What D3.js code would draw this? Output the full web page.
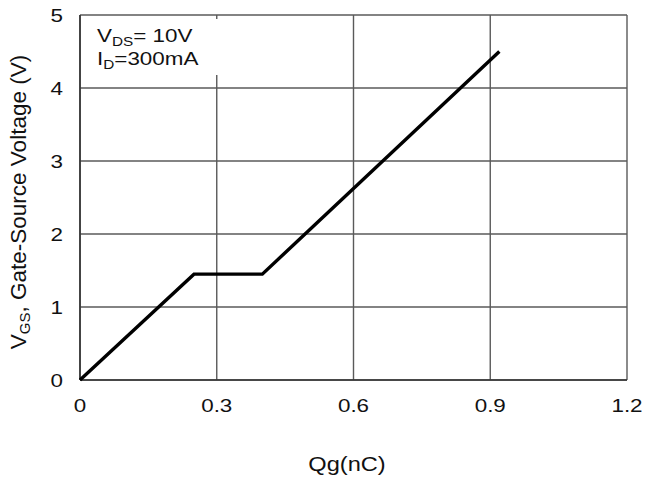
<!DOCTYPE html>
<html>
<head>
<meta charset="utf-8">
<script src="https://cdn.jsdelivr.net/npm/d3@7"></script>
<style>
  body { margin: 0; background: #fff; }
  text { font-family: "Liberation Sans", Arial, sans-serif; fill: #111; }
</style>
</head>
<body>
<svg class="chart" width="645" height="483"></svg>
<script>
// gate charge curve, Qg (nC) vs VGS (V)
var qg = [0, 0.25, 0.40, 0.92];
var vgs = [0, 1.45, 1.45, 4.5];
var xTicks = [0, 0.3, 0.6, 0.9, 1.2];
var yTicks = [0, 1, 2, 3, 4, 5];

var margin = {top: 15, right: 18, bottom: 103, left: 80};
var svg = d3.select(".chart");
var w = +svg.attr("width") - margin.left - margin.right;
var h = +svg.attr("height") - margin.top - margin.bottom;
var sx = 1.18; // source image text looks stretched horizontally

var x = d3.scaleLinear().domain([0, 1.2]).range([0, w]);
var y = d3.scaleLinear().domain([0, 5]).range([h, 0]);

var g = svg.append("g").attr("transform", "translate(" + margin.left + "," + margin.top + ")");

// wide text helper: anchor point then scale
function label(parent, px, py, anchor, size) {
    return parent.append("g").attr("transform", "translate(" + px + "," + py + ") scale(" + sx + ",1)")
        .append("text").attr("text-anchor", anchor).attr("font-size", size);
}

// grid
g.selectAll(".vgrid").data(xTicks).enter().append("line")
    .attr("x1", function(d) { return x(d); }).attr("x2", function(d) { return x(d); })
    .attr("y1", 0).attr("y2", h)
    .attr("stroke", "#5a5a5a").attr("stroke-width", 1.4);
g.selectAll(".hgrid").data(yTicks).enter().append("line")
    .attr("y1", function(d) { return y(d); }).attr("y2", function(d) { return y(d); })
    .attr("x1", 0).attr("x2", w)
    .attr("stroke", "#5a5a5a").attr("stroke-width", 1.4);

// label box covers grid
g.append("rect").attr("x", 1).attr("y", 4).attr("width", x(0.3) + 6).attr("height", 56).attr("fill", "#fff");

g.append("line").attr("x1", 0).attr("x2", 0).attr("y1", 0).attr("y2", h).attr("stroke", "#333").attr("stroke-width", 1.6);
g.append("line").attr("x1", 0).attr("x2", w).attr("y1", h).attr("y2", h).attr("stroke", "#333").attr("stroke-width", 1.6);

// tick labels
xTicks.forEach(function(d) {
    label(g, x(d), h + 32, "middle", 19).text(d === 0 ? "0" : d3.format(".1f")(d));
});
yTicks.forEach(function(d) {
    label(g, -17, y(d) + 7, "end", 19).text(d);
});

// curve
var line = d3.line().x(function(d) { return x(d[0]); }).y(function(d) { return y(d[1]); });
g.append("path").datum(d3.zip(qg, vgs))
    .attr("d", line).attr("fill", "none").attr("stroke", "#000").attr("stroke-width", 3.4)
    .attr("stroke-linejoin", "miter");

// conditions
var c1 = label(g, 17, 27, "start", 19);
c1.append("tspan").text("V");
c1.append("tspan").attr("font-size", 13).attr("dy", 4).text("DS");
c1.append("tspan").attr("dy", -4).text("= 10V");
var c2 = label(g, 17, 50, "start", 19);
c2.append("tspan").text("I");
c2.append("tspan").attr("font-size", 13).attr("dy", 4).text("D");
c2.append("tspan").attr("dy", -4).text("=300mA");

// axis titles
label(svg, 347, 471, "middle", 20).text("Qg(nC)");
var yt = svg.append("text").attr("transform", "translate(26,202) rotate(-90)")
    .attr("text-anchor", "middle").attr("font-size", 22.5);
yt.append("tspan").text("V");
yt.append("tspan").attr("font-size", 15).attr("dy", 4).text("GS");
yt.append("tspan").attr("dy", -4).text(",  Gate-Source Voltage (V)");
</script>
</body>
</html>
